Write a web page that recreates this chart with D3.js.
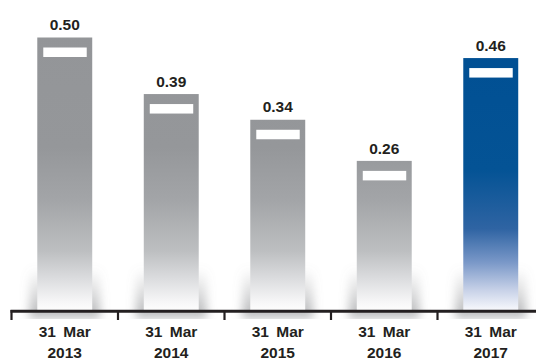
<!DOCTYPE html>
<html>
<head>
<meta charset="utf-8">
<script src="https://cdn.jsdelivr.net/npm/d3@7"></script>
<style>
  html, body { margin: 0; padding: 0; background: #ffffff; }
  svg { display: block; }
  text { font-family: "Liberation Sans", Arial, Helvetica, sans-serif; font-weight: bold; fill: #231f20; }
</style>
</head>
<body>
<svg id="chart" width="536" height="360"></svg>
<script>
// Values at each year end
const periods = ["31 Mar 2013", "31 Mar 2014", "31 Mar 2015", "31 Mar 2016", "31 Mar 2017"];
const dateLines = [["31 Mar", "2013"], ["31 Mar", "2014"], ["31 Mar", "2015"], ["31 Mar", "2016"], ["31 Mar", "2017"]];
const values = [0.50, 0.39, 0.34, 0.26, 0.46];
const valueLabels = ["0.50", "0.39", "0.34", "0.26", "0.46"];
const highlighted = [false, false, false, false, true];

const W = 536, H = 360;
const baseY = 310;

const svg = d3.select("#chart");
const defs = svg.append("defs");

// Grey and blue fills fade to white toward the baseline
const greyGrad = defs.append("linearGradient")
  .attr("id", "greyFill").attr("gradientUnits", "userSpaceOnUse")
  .attr("x1", 0).attr("x2", 0).attr("y1", 30).attr("y2", baseY);
[[0, "#939598"], [0.42, "#95979a"], [0.61, "#a3a5a8"], [0.79, "#bdbfc1"], [0.89, "#dcdddf"], [0.97, "#f6f6f7"], [1, "#fdfdfd"]]
  .forEach(([o, c]) => greyGrad.append("stop").attr("offset", o).attr("stop-color", c));

const blueGrad = defs.append("linearGradient")
  .attr("id", "blueFill").attr("gradientUnits", "userSpaceOnUse")
  .attr("x1", 0).attr("x2", 0).attr("y1", 30).attr("y2", baseY);
[[0, "#004f93"], [0.5, "#045395"], [0.71, "#2f64a3"], [0.83, "#7a98c8"], [0.93, "#c8d2e8"], [1, "#f7f8fc"]]
  .forEach(([o, c]) => blueGrad.append("stop").attr("offset", o).attr("stop-color", c));

// Soft shadow around the foot of each bar
const shadowGrad = defs.append("linearGradient")
  .attr("id", "shadowFill").attr("x1", 0).attr("x2", 0).attr("y1", 0).attr("y2", 1);
shadowGrad.append("stop").attr("offset", 0).attr("stop-color", "#808285").attr("stop-opacity", 0);
shadowGrad.append("stop").attr("offset", 0.55).attr("stop-color", "#808285").attr("stop-opacity", 0.3);
shadowGrad.append("stop").attr("offset", 1).attr("stop-color", "#808285").attr("stop-opacity", 0.6);

defs.append("filter").attr("id", "soft")
  .attr("x", "-50%").attr("y", "-50%").attr("width", "200%").attr("height", "200%")
  .append("feGaussianBlur").attr("stdDeviation", 5);

defs.append("clipPath").attr("id", "shadowClip")
  .append("rect").attr("x", 0).attr("y", 0).attr("width", W).attr("height", 319);

const x = d3.scaleBand()
  .domain(periods)
  .range([11.5, 544])
  .paddingInner(0.484)
  .paddingOuter(0.242);

const y = d3.scaleLinear()
  .domain([-0.03, 0.5])
  .range([baseY, 37.5]);

const data = periods.map((p, i) => ({ p, v: values[i], label: valueLabels[i], hi: highlighted[i], lines: dateLines[i] }));

// shadows
svg.append("g").attr("clip-path", "url(#shadowClip)")
  .selectAll("rect").data(data).join("rect")
  .attr("x", d => x(d.p) - 8)
  .attr("width", x.bandwidth() + 16)
  .attr("y", baseY - 42)
  .attr("height", 50)
  .attr("fill", "url(#shadowFill)")
  .attr("filter", "url(#soft)");

// bars
svg.append("g").selectAll("rect").data(data).join("rect")
  .attr("x", d => x(d.p))
  .attr("width", x.bandwidth())
  .attr("y", d => y(d.v))
  .attr("height", d => y(-0.03) - y(d.v))
  .attr("fill", d => d.hi ? "url(#blueFill)" : "url(#greyFill)");

// white marker near the top of each bar
svg.append("g").selectAll("rect").data(data).join("rect")
  .attr("x", d => x(d.p) + 6)
  .attr("width", x.bandwidth() - 11.5)
  .attr("y", d => y(d.v) + 10)
  .attr("height", 9.5)
  .attr("fill", "#ffffff");

// value labels
svg.append("g").selectAll("text").data(data).join("text")
  .attr("x", d => x(d.p) + x.bandwidth() / 2)
  .attr("y", d => y(d.v) - 7.3)
  .attr("text-anchor", "middle")
  .style("font-size", "15.5px")
  .text(d => d.label);

// axis line and ticks at band boundaries
const axis = svg.append("g");
axis.append("line")
  .attr("x1", 10.5).attr("x2", W + 10)
  .attr("y1", baseY + 1.2).attr("y2", baseY + 1.2)
  .attr("stroke", "#231f20").attr("stroke-width", 3);
const tickXs = periods.map(p => x(p) - x.step() * x.paddingInner() / 2);
axis.selectAll("line.tick").data(tickXs).join("line")
  .attr("class", "tick")
  .attr("x1", d => d).attr("x2", d => d)
  .attr("y1", baseY).attr("y2", baseY + 10)
  .attr("stroke", "#231f20").attr("stroke-width", 2.2);

// category labels
const cats = svg.append("g").selectAll("text").data(data).join("text")
  .attr("x", d => x(d.p) + x.bandwidth() / 2)
  .attr("y", 337)
  .attr("text-anchor", "middle")
  .style("font-size", "15.5px")
  .style("word-spacing", "3px");
cats.append("tspan")
  .attr("x", d => x(d.p) + x.bandwidth() / 2)
  .text(d => d.lines[0]);
cats.append("tspan")
  .attr("x", d => x(d.p) + x.bandwidth() / 2)
  .attr("dy", 20.5)
  .text(d => d.lines[1]);
</script>
</body>
</html>
